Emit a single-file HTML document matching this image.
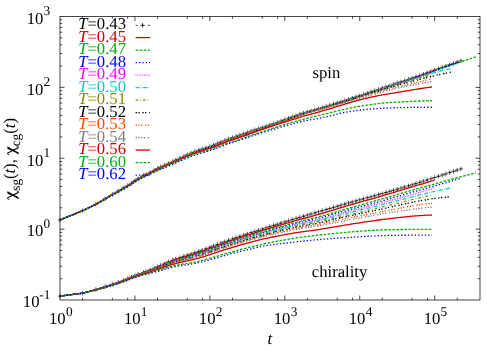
<!DOCTYPE html>
<html><head><meta charset="utf-8"><title>chi(t)</title>
<style>html,body{margin:0;padding:0;background:#fff;}body{width:500px;height:350px;overflow:hidden;font-family:"Liberation Serif",serif;}svg{display:block;will-change:transform;}text{text-rendering:geometricPrecision;}</style></head>
<body>
<svg width="500" height="350" viewBox="0 0 500 350">
<g fill="none" stroke-linecap="butt" stroke-linejoin="round">
<path d="M60.00,220.00L82.56,210.72L95.76,204.22L105.12,198.73L112.38,194.40L118.31,191.08L123.33,188.11L127.68,185.56L131.51,183.19L134.94,180.64L138.04,178.65L143.48,175.64L145.89,174.44L150.24,172.28L154.07,170.29L157.50,168.52L160.60,167.02L164.76,165.19L168.45,163.60L172.80,161.58L175.71,160.15L180.06,158.07L183.89,156.30L187.32,154.73L191.01,153.11L194.84,151.56L198.73,150.18L202.21,149.07L206.09,147.85L209.88,146.54L213.57,145.10L217.40,143.46L221.06,141.89L224.77,140.39L228.65,138.95L232.44,137.61L236.13,136.34L239.83,135.08L243.62,133.78L247.33,132.48L251.11,131.14L254.84,129.86L258.61,128.62L262.33,127.46L266.07,126.28L269.83,125.06L273.58,123.76L277.31,122.42L281.06,121.04L284.82,119.63L288.57,118.24L292.32,116.86L296.07,115.53L299.81,114.26L303.55,113.06L307.30,111.91L311.05,110.79L314.80,109.69L318.54,108.61L322.29,107.51L326.04,106.41L329.78,105.27L333.53,104.10L337.28,102.92L341.02,101.74L344.77,100.54L348.52,99.34L352.26,98.13L356.01,96.90L359.76,95.68L363.51,94.44L367.25,93.19L371.00,91.93L374.75,90.67L378.50,89.40L382.24,88.12L385.99,86.85L389.74,85.59L393.48,84.33L397.23,83.09L400.98,81.84L404.72,80.60L408.47,79.35L412.22,78.09L415.96,76.81L419.71,75.50L423.46,74.16L427.21,72.78L430.95,71.39L434.70,70.00L438.45,68.64L442.19,67.31L445.94,66.00L449.69,64.70L453.44,63.40L457.18,62.10L460.93,60.80" stroke="#000000" stroke-width="0.70" stroke-dasharray="2.20,3.90"/>
<path d="M57.80,220.00h4.4M60.00,217.80v4.4M80.36,210.72h4.4M82.56,208.52v4.4M93.56,204.22h4.4M95.76,202.02v4.4M102.92,198.73h4.4M105.12,196.53v4.4M110.18,194.40h4.4M112.38,192.20v4.4M116.11,191.08h4.4M118.31,188.88v4.4M121.13,188.11h4.4M123.33,185.91v4.4M125.48,185.56h4.4M127.68,183.36v4.4M129.31,183.19h4.4M131.51,180.99v4.4M132.74,180.64h4.4M134.94,178.44v4.4M135.84,178.65h4.4M138.04,176.45v4.4M141.28,175.64h4.4M143.48,173.44v4.4M143.69,174.44h4.4M145.89,172.24v4.4M148.04,172.28h4.4M150.24,170.08v4.4M151.87,170.29h4.4M154.07,168.09v4.4M155.30,168.52h4.4M157.50,166.32v4.4M158.40,167.02h4.4M160.60,164.82v4.4M162.56,165.19h4.4M164.76,162.99v4.4M166.25,163.60h4.4M168.45,161.40v4.4M170.60,161.58h4.4M172.80,159.38v4.4M173.51,160.15h4.4M175.71,157.95v4.4M177.86,158.07h4.4M180.06,155.87v4.4M181.69,156.30h4.4M183.89,154.10v4.4M185.12,154.73h4.4M187.32,152.53v4.4M188.81,153.11h4.4M191.01,150.91v4.4M192.64,151.56h4.4M194.84,149.36v4.4M196.53,150.18h4.4M198.73,147.98v4.4M200.01,149.07h4.4M202.21,146.87v4.4M203.89,147.85h4.4M206.09,145.65v4.4M207.68,146.54h4.4M209.88,144.34v4.4M211.37,145.10h4.4M213.57,142.90v4.4M215.20,143.46h4.4M217.40,141.26v4.4M218.86,141.89h4.4M221.06,139.69v4.4M222.57,140.39h4.4M224.77,138.19v4.4M226.45,138.95h4.4M228.65,136.75v4.4M230.24,137.61h4.4M232.44,135.41v4.4M233.93,136.34h4.4M236.13,134.14v4.4M237.63,135.08h4.4M239.83,132.88v4.4M241.42,133.78h4.4M243.62,131.58v4.4M245.13,132.48h4.4M247.33,130.28v4.4M248.91,131.14h4.4M251.11,128.94v4.4M252.64,129.86h4.4M254.84,127.66v4.4M256.41,128.62h4.4M258.61,126.42v4.4M260.13,127.46h4.4M262.33,125.26v4.4M263.87,126.28h4.4M266.07,124.08v4.4M267.63,125.06h4.4M269.83,122.86v4.4M271.38,123.76h4.4M273.58,121.56v4.4M275.11,122.42h4.4M277.31,120.22v4.4M278.86,121.04h4.4M281.06,118.84v4.4M282.62,119.63h4.4M284.82,117.43v4.4M286.37,118.24h4.4M288.57,116.04v4.4M290.12,116.86h4.4M292.32,114.66v4.4M293.87,115.53h4.4M296.07,113.33v4.4M297.61,114.26h4.4M299.81,112.06v4.4M301.35,113.06h4.4M303.55,110.86v4.4M305.10,111.91h4.4M307.30,109.71v4.4M308.85,110.79h4.4M311.05,108.59v4.4M312.60,109.69h4.4M314.80,107.49v4.4M316.34,108.61h4.4M318.54,106.41v4.4M320.09,107.51h4.4M322.29,105.31v4.4M323.84,106.41h4.4M326.04,104.21v4.4M327.58,105.27h4.4M329.78,103.07v4.4M331.33,104.10h4.4M333.53,101.90v4.4M335.08,102.92h4.4M337.28,100.72v4.4M338.82,101.74h4.4M341.02,99.54v4.4M342.57,100.54h4.4M344.77,98.34v4.4M346.32,99.34h4.4M348.52,97.14v4.4M350.06,98.13h4.4M352.26,95.93v4.4M353.81,96.90h4.4M356.01,94.70v4.4M357.56,95.68h4.4M359.76,93.48v4.4M361.31,94.44h4.4M363.51,92.24v4.4M365.05,93.19h4.4M367.25,90.99v4.4M368.80,91.93h4.4M371.00,89.73v4.4M372.55,90.67h4.4M374.75,88.47v4.4M376.30,89.40h4.4M378.50,87.20v4.4M380.04,88.12h4.4M382.24,85.92v4.4M383.79,86.85h4.4M385.99,84.65v4.4M387.54,85.59h4.4M389.74,83.39v4.4M391.28,84.33h4.4M393.48,82.13v4.4M395.03,83.09h4.4M397.23,80.89v4.4M398.78,81.84h4.4M400.98,79.64v4.4M402.52,80.60h4.4M404.72,78.40v4.4M406.27,79.35h4.4M408.47,77.15v4.4M410.02,78.09h4.4M412.22,75.89v4.4M413.76,76.81h4.4M415.96,74.61v4.4M417.51,75.50h4.4M419.71,73.30v4.4M421.26,74.16h4.4M423.46,71.96v4.4M425.01,72.78h4.4M427.21,70.58v4.4M428.75,71.39h4.4M430.95,69.19v4.4M432.50,70.00h4.4M434.70,67.80v4.4M436.25,68.64h4.4M438.45,66.44v4.4M439.99,67.31h4.4M442.19,65.11v4.4M443.74,66.00h4.4M445.94,63.80v4.4M447.49,64.70h4.4M449.69,62.50v4.4M451.24,63.40h4.4M453.44,61.20v4.4M454.98,62.10h4.4M457.18,59.90v4.4M458.73,60.80h4.4M460.93,58.60v4.4" stroke="#000" stroke-width="0.65"/>
<path d="M60.00,296.10L82.56,293.21L95.76,289.61L105.12,286.66L112.38,284.32L118.31,282.29L123.33,280.36L127.68,278.58L131.51,277.00L134.94,275.62L138.04,274.42L143.48,272.38L145.89,271.47L150.24,269.81L154.07,268.28L157.50,266.82L160.60,265.40L164.76,263.46L168.45,261.83L172.80,260.13L175.71,259.08L180.06,257.58L183.89,256.32L187.32,255.22L191.01,254.03L194.84,252.77L198.73,251.45L202.21,250.21L206.09,248.77L209.88,247.34L213.57,245.93L217.40,244.47L221.06,243.08L224.77,241.69L228.65,240.28L232.44,238.95L236.13,237.68L239.83,236.42L243.62,235.15L247.33,233.93L251.11,232.69L254.84,231.48L258.61,230.25L262.33,229.05L266.07,227.84L269.83,226.63L273.58,225.43L277.31,224.25L281.06,223.07L284.82,221.90L288.57,220.74L292.32,219.59L296.07,218.46L299.81,217.34L303.55,216.24L307.30,215.13L311.05,214.03L314.80,212.93L318.54,211.83L322.29,210.72L326.04,209.62L329.78,208.51L333.53,207.40L337.28,206.30L341.02,205.20L344.77,204.11L348.52,203.03L352.26,201.95L356.01,200.90L359.76,199.85L363.51,198.81L367.25,197.78L371.00,196.74L374.75,195.69L378.50,194.63L382.24,193.56L385.99,192.48L389.74,191.40L393.48,190.32L397.23,189.22L400.98,188.12L404.72,187.00L408.47,185.87L412.22,184.72L415.96,183.55L419.71,182.37L423.46,181.17L427.21,179.97L430.95,178.75L434.70,177.53L438.45,176.30L442.19,175.07L445.94,173.84L449.69,172.60L453.44,171.37L457.18,170.14L460.93,168.92" stroke="#000000" stroke-width="0.70" stroke-dasharray="2.20,3.90"/>
<path d="M57.80,296.10h4.4M60.00,293.90v4.4M80.36,293.21h4.4M82.56,291.01v4.4M93.56,289.61h4.4M95.76,287.41v4.4M102.92,286.66h4.4M105.12,284.46v4.4M110.18,284.32h4.4M112.38,282.12v4.4M116.11,282.29h4.4M118.31,280.09v4.4M121.13,280.36h4.4M123.33,278.16v4.4M125.48,278.58h4.4M127.68,276.38v4.4M129.31,277.00h4.4M131.51,274.80v4.4M132.74,275.62h4.4M134.94,273.42v4.4M135.84,274.42h4.4M138.04,272.22v4.4M141.28,272.38h4.4M143.48,270.18v4.4M143.69,271.47h4.4M145.89,269.27v4.4M148.04,269.81h4.4M150.24,267.61v4.4M151.87,268.28h4.4M154.07,266.08v4.4M155.30,266.82h4.4M157.50,264.62v4.4M158.40,265.40h4.4M160.60,263.20v4.4M162.56,263.46h4.4M164.76,261.26v4.4M166.25,261.83h4.4M168.45,259.63v4.4M170.60,260.13h4.4M172.80,257.93v4.4M173.51,259.08h4.4M175.71,256.88v4.4M177.86,257.58h4.4M180.06,255.38v4.4M181.69,256.32h4.4M183.89,254.12v4.4M185.12,255.22h4.4M187.32,253.02v4.4M188.81,254.03h4.4M191.01,251.83v4.4M192.64,252.77h4.4M194.84,250.57v4.4M196.53,251.45h4.4M198.73,249.25v4.4M200.01,250.21h4.4M202.21,248.01v4.4M203.89,248.77h4.4M206.09,246.57v4.4M207.68,247.34h4.4M209.88,245.14v4.4M211.37,245.93h4.4M213.57,243.73v4.4M215.20,244.47h4.4M217.40,242.27v4.4M218.86,243.08h4.4M221.06,240.88v4.4M222.57,241.69h4.4M224.77,239.49v4.4M226.45,240.28h4.4M228.65,238.08v4.4M230.24,238.95h4.4M232.44,236.75v4.4M233.93,237.68h4.4M236.13,235.48v4.4M237.63,236.42h4.4M239.83,234.22v4.4M241.42,235.15h4.4M243.62,232.95v4.4M245.13,233.93h4.4M247.33,231.73v4.4M248.91,232.69h4.4M251.11,230.49v4.4M252.64,231.48h4.4M254.84,229.28v4.4M256.41,230.25h4.4M258.61,228.05v4.4M260.13,229.05h4.4M262.33,226.85v4.4M263.87,227.84h4.4M266.07,225.64v4.4M267.63,226.63h4.4M269.83,224.43v4.4M271.38,225.43h4.4M273.58,223.23v4.4M275.11,224.25h4.4M277.31,222.05v4.4M278.86,223.07h4.4M281.06,220.87v4.4M282.62,221.90h4.4M284.82,219.70v4.4M286.37,220.74h4.4M288.57,218.54v4.4M290.12,219.59h4.4M292.32,217.39v4.4M293.87,218.46h4.4M296.07,216.26v4.4M297.61,217.34h4.4M299.81,215.14v4.4M301.35,216.24h4.4M303.55,214.04v4.4M305.10,215.13h4.4M307.30,212.93v4.4M308.85,214.03h4.4M311.05,211.83v4.4M312.60,212.93h4.4M314.80,210.73v4.4M316.34,211.83h4.4M318.54,209.63v4.4M320.09,210.72h4.4M322.29,208.52v4.4M323.84,209.62h4.4M326.04,207.42v4.4M327.58,208.51h4.4M329.78,206.31v4.4M331.33,207.40h4.4M333.53,205.20v4.4M335.08,206.30h4.4M337.28,204.10v4.4M338.82,205.20h4.4M341.02,203.00v4.4M342.57,204.11h4.4M344.77,201.91v4.4M346.32,203.03h4.4M348.52,200.83v4.4M350.06,201.95h4.4M352.26,199.75v4.4M353.81,200.90h4.4M356.01,198.70v4.4M357.56,199.85h4.4M359.76,197.65v4.4M361.31,198.81h4.4M363.51,196.61v4.4M365.05,197.78h4.4M367.25,195.58v4.4M368.80,196.74h4.4M371.00,194.54v4.4M372.55,195.69h4.4M374.75,193.49v4.4M376.30,194.63h4.4M378.50,192.43v4.4M380.04,193.56h4.4M382.24,191.36v4.4M383.79,192.48h4.4M385.99,190.28v4.4M387.54,191.40h4.4M389.74,189.20v4.4M391.28,190.32h4.4M393.48,188.12v4.4M395.03,189.22h4.4M397.23,187.02v4.4M398.78,188.12h4.4M400.98,185.92v4.4M402.52,187.00h4.4M404.72,184.80v4.4M406.27,185.87h4.4M408.47,183.67v4.4M410.02,184.72h4.4M412.22,182.52v4.4M413.76,183.55h4.4M415.96,181.35v4.4M417.51,182.37h4.4M419.71,180.17v4.4M421.26,181.17h4.4M423.46,178.97v4.4M425.01,179.97h4.4M427.21,177.77v4.4M428.75,178.75h4.4M430.95,176.55v4.4M432.50,177.53h4.4M434.70,175.33v4.4M436.25,176.30h4.4M438.45,174.10v4.4M439.99,175.07h4.4M442.19,172.87v4.4M443.74,173.84h4.4M445.94,171.64v4.4M447.49,172.60h4.4M449.69,170.40v4.4M451.24,171.37h4.4M453.44,169.17v4.4M454.98,170.14h4.4M457.18,167.94v4.4M458.73,168.92h4.4M460.93,166.72v4.4" stroke="#000" stroke-width="0.65"/>
<path d="M60.00,220.00L82.56,210.72L95.76,204.22L105.12,198.73L112.38,194.42L118.31,191.13L123.33,188.20L127.68,185.69L131.51,183.36L134.94,180.84L138.04,178.87L143.48,175.92L145.89,174.74L150.24,172.63L154.07,170.68L157.50,168.95L160.60,167.49L164.76,165.70L168.45,164.16L172.80,162.19L175.71,160.80L180.06,158.77L183.89,157.05L187.32,155.52L191.01,153.96L194.84,152.47L198.73,151.16L202.21,150.10L206.09,148.94L209.88,147.70L213.57,146.31L217.40,144.73L221.06,143.21L224.77,141.76L228.65,140.36L232.44,139.05L236.13,137.81L239.83,136.57L243.62,135.28L247.33,133.98L251.11,132.63L254.84,131.32L258.61,130.06L262.33,128.86L266.07,127.65L269.83,126.37L273.58,125.03L277.31,123.64L281.06,122.20L284.82,120.74L288.57,119.29L292.32,117.86L296.07,116.48L299.81,115.16L303.55,113.92L307.30,112.71L311.05,111.53L314.80,110.37L318.54,109.23L322.29,108.09L326.04,106.94L329.78,105.77L333.53,104.58L337.28,103.39L341.02,102.19L344.77,100.97L348.52,99.76L352.26,98.53L356.01,97.31L359.76,96.08L363.51,94.84L367.25,93.59L371.00,92.33L374.75,91.07L378.50,89.80L382.24,88.52L385.99,87.25L389.74,85.99L393.48,84.74L397.23,83.50L400.98,82.27L404.72,81.05L408.47,79.82L412.22,78.57L415.96,77.30L419.71,76.00L423.46,74.66L427.21,73.28L430.95,71.89L434.70,70.50" stroke="#cd0000" stroke-width="1.30"/>
<path d="M60.00,296.10L82.56,293.21L95.76,289.65L105.12,286.73L112.38,284.41L118.31,282.38L123.33,280.47L127.68,278.70L131.51,277.13L134.94,275.76L138.04,274.58L143.48,272.58L145.89,271.70L150.24,270.09L154.07,268.61L157.50,267.20L160.60,265.82L164.76,263.94L168.45,262.36L172.80,260.72L175.71,259.70L180.06,258.27L183.89,257.07L187.32,256.01L191.01,254.88L194.84,253.67L198.73,252.38L202.21,251.18L206.09,249.77L209.88,248.37L213.57,246.99L217.40,245.54L221.06,244.18L224.77,242.81L228.65,241.43L232.44,240.12L236.13,238.88L239.83,237.65L243.62,236.41L247.33,235.22L251.11,234.01L254.84,232.83L258.61,231.64L262.33,230.47L266.07,229.31L269.83,228.15L273.58,227.02L277.31,225.90L281.06,224.78L284.82,223.68L288.57,222.59L292.32,221.52L296.07,220.49L299.81,219.49L303.55,218.50L307.30,217.51L311.05,216.51L314.80,215.49L318.54,214.43L322.29,213.32L326.04,212.20L329.78,211.07L333.53,209.93L337.28,208.79L341.02,207.66L344.77,206.54L348.52,205.43L352.26,204.34L356.01,203.27L359.76,202.22L363.51,201.17L367.25,200.12L371.00,199.07L374.75,198.01L378.50,196.94L382.24,195.85L385.99,194.74L389.74,193.63L393.48,192.51L397.23,191.39L400.98,190.25L404.72,189.11L408.47,187.97L412.22,186.83L415.96,185.72L419.71,184.63L423.46,183.54L427.21,182.42L430.95,181.25L434.70,180.03" stroke="#cd0000" stroke-width="1.30"/>
<path d="M60.00,220.00L82.56,210.72L95.76,204.22L105.12,198.73L112.38,194.40L118.31,191.08L123.33,188.11L127.68,185.56L131.51,183.19L134.94,180.64L138.04,178.65L143.48,175.66L145.89,174.46L150.24,172.32L154.07,170.35L157.50,168.61L160.60,167.12L164.76,165.32L168.45,163.75L172.80,161.75L175.71,160.34L180.06,158.27L183.89,156.51L187.32,154.95L191.01,153.34L194.84,151.79L198.73,150.43L202.21,149.32L206.09,148.10L209.88,146.81L213.57,145.37L217.40,143.74L221.06,142.17L224.77,140.68L228.65,139.24L232.44,137.90L236.13,136.64L239.83,135.38L243.62,134.08L247.33,132.78L251.11,131.44L254.84,130.16L258.61,128.92L262.33,127.76L266.07,126.58L269.83,125.36L273.58,124.06L277.31,122.72L281.06,121.34L284.82,119.93L288.57,118.54L292.32,117.16L296.07,115.83L299.81,114.56L303.55,113.36L307.30,112.21L311.05,111.09L314.80,109.99L318.54,108.91L322.29,107.81L326.04,106.71L329.78,105.57L333.53,104.40L337.28,103.24L341.02,102.07L344.77,100.89L348.52,99.71L352.26,98.51L356.01,97.30L359.76,96.08L363.51,94.84L367.25,93.59L371.00,92.33L374.75,91.07L378.50,89.80L382.24,88.52L385.99,87.25L389.74,85.99L393.48,84.74L397.23,83.51L400.98,82.29L404.72,81.07L408.47,79.85L412.22,78.62L415.96,77.37L419.71,76.10L423.46,74.79L427.21,73.44L430.95,72.07L434.70,70.73L438.45,69.43L442.19,68.16L445.94,66.91L449.69,65.67L453.44,64.42L457.18,63.17L460.93,61.92L464.68,60.65L468.42,59.38L472.17,58.11L475.92,56.84" stroke="#00b400" stroke-width="1.30" stroke-dasharray="2.70,1.35"/>
<path d="M60.00,296.10L82.56,293.21L95.76,289.68L105.12,286.80L112.38,284.50L118.31,282.48L123.33,280.57L127.68,278.81L131.51,277.25L134.94,275.89L138.04,274.72L143.48,272.76L145.89,271.90L150.24,270.34L154.07,268.91L157.50,267.54L160.60,266.20L164.76,264.37L168.45,262.84L172.80,261.25L175.71,260.28L180.06,258.91L183.89,257.76L187.32,256.75L191.01,255.67L194.84,254.50L198.73,253.26L202.21,252.08L206.09,250.71L209.88,249.33L213.57,247.97L217.40,246.55L221.06,245.20L224.77,243.86L228.65,242.50L232.44,241.22L236.13,240.00L239.83,238.80L243.62,237.58L247.33,236.41L251.11,235.23L254.84,234.08L258.61,232.92L262.33,231.80L266.07,230.68L269.83,229.57L273.58,228.49L277.31,227.42L281.06,226.37L284.82,225.33L288.57,224.31L292.32,223.31L296.07,222.35L299.81,221.43L303.55,220.53L307.30,219.63L311.05,218.71L314.80,217.77L318.54,216.80L322.29,215.77L326.04,214.74L329.78,213.70L333.53,212.66L337.28,211.61L341.02,210.55L344.77,209.49L348.52,208.42L352.26,207.35L356.01,206.29L359.76,205.23L363.51,204.17L367.25,203.12L371.00,202.06L374.75,201.00L378.50,199.93L382.24,198.86L385.99,197.79L389.74,196.71L393.48,195.64L397.23,194.56L400.98,193.47L404.72,192.37L408.47,191.26L412.22,190.15L415.96,189.08L419.71,188.05L423.46,187.04L427.21,186.03L430.95,185.00L434.70,183.95L438.45,182.90L442.19,181.85L445.94,180.81L449.69,179.78L453.44,178.75L457.18,177.74L460.93,176.74L464.68,175.75L468.42,174.77L472.17,173.80L475.92,172.83" stroke="#00b400" stroke-width="1.30" stroke-dasharray="2.70,1.35"/>
<path d="M60.00,220.00L82.56,210.72L95.76,204.22L105.12,198.73L112.38,194.40L118.31,191.08L123.33,188.11L127.68,185.56L131.51,183.19L134.94,180.64L138.04,178.65L143.48,175.66L145.89,174.46L150.24,172.32L154.07,170.35L157.50,168.60L160.60,167.12L164.76,165.31L168.45,163.74L172.80,161.74L175.71,160.33L180.06,158.27L183.89,156.51L187.32,154.96L191.01,153.35L194.84,151.82L198.73,150.46L202.21,149.36L206.09,148.15L209.88,146.86L213.57,145.43L217.40,143.81L221.06,142.25L224.77,140.76L228.65,139.33L232.44,137.99L236.13,136.73L239.83,135.48L243.62,134.18L247.33,132.88L251.11,131.54L254.84,130.26L258.61,129.02L262.33,127.86L266.07,126.68L269.83,125.46L273.58,124.16L277.31,122.82L281.06,121.44L284.82,120.03L288.57,118.64L292.32,117.26L296.07,115.93L299.81,114.66L303.55,113.46L307.30,112.31L311.05,111.19L314.80,110.09L318.54,109.01L322.29,107.91L326.04,106.81L329.78,105.67L333.53,104.50L337.28,103.32L341.02,102.14L344.77,100.94L348.52,99.74L352.26,98.53L356.01,97.30L359.76,96.08L363.51,94.85L367.25,93.60L371.00,92.36L374.75,91.10L378.50,89.85L382.24,88.59L385.99,87.34L389.74,86.09L393.48,84.85L397.23,83.61L400.98,82.39L404.72,81.16L408.47,79.93L412.22,78.67L415.96,77.40L419.71,76.10L423.46,74.76L427.21,73.38L430.95,71.99L434.70,70.60L438.45,69.24L442.19,67.91L445.94,66.60L449.69,65.30L453.44,64.00L457.18,62.70L460.93,61.40" stroke="#0000ff" stroke-width="1.30" stroke-dasharray="1.35,2.03"/>
<path d="M60.00,296.10L82.56,293.21L95.76,289.70L105.12,286.83L112.38,284.54L118.31,282.53L123.33,280.62L127.68,278.87L131.51,277.32L134.94,275.97L138.04,274.81L143.48,272.87L145.89,272.03L150.24,270.50L154.07,269.10L157.50,267.75L160.60,266.44L164.76,264.64L168.45,263.14L172.80,261.58L175.71,260.63L180.06,259.30L183.89,258.18L187.32,257.20L191.01,256.15L194.84,255.01L198.73,253.80L202.21,252.63L206.09,251.28L209.88,249.92L213.57,248.57L217.40,247.17L221.06,245.83L224.77,244.51L228.65,243.17L232.44,241.90L236.13,240.70L239.83,239.50L243.62,238.31L247.33,237.15L251.11,235.98L254.84,234.85L258.61,233.71L262.33,232.61L266.07,231.52L269.83,230.44L273.58,229.39L277.31,228.36L281.06,227.35L284.82,226.35L288.57,225.36L292.32,224.40L296.07,223.48L299.81,222.61L303.55,221.75L307.30,220.89L311.05,220.02L314.80,219.12L318.54,218.18L322.29,217.19L326.04,216.18L329.78,215.16L333.53,214.13L337.28,213.10L341.02,212.07L344.77,211.03L348.52,210.01L352.26,208.98L356.01,207.97L359.76,206.97L363.51,205.97L367.25,204.97L371.00,203.96L374.75,202.95L378.50,201.92L382.24,200.87L385.99,199.82L389.74,198.76L393.48,197.70L397.23,196.62L400.98,195.54L404.72,194.45L408.47,193.35L412.22,192.25L415.96,191.17L419.71,190.10L423.46,189.04L427.21,187.98L430.95,186.91L434.70,185.85L438.45,184.83L442.19,183.82L445.94,182.79L449.69,181.73L453.44,180.61L457.18,179.47L460.93,178.33" stroke="#0000ff" stroke-width="1.30" stroke-dasharray="1.35,2.03"/>
<path d="M60.00,220.00L82.56,210.72L95.76,204.22L105.12,198.73L112.38,194.41L118.31,191.11L123.33,188.16L127.68,185.63L131.51,183.28L134.94,180.74L138.04,178.76L143.48,175.78L145.89,174.59L150.24,172.44L154.07,170.47L157.50,168.72L160.60,167.23L164.76,165.42L168.45,163.85L172.80,161.85L175.71,160.44L180.06,158.37L183.89,156.61L187.32,155.06L191.01,153.45L194.84,151.92L198.73,150.56L202.21,149.46L206.09,148.25L209.88,146.96L213.57,145.53L217.40,143.91L221.06,142.35L224.77,140.86L228.65,139.43L232.44,138.09L236.13,136.83L239.83,135.58L243.62,134.28L247.33,132.98L251.11,131.64L254.84,130.36L258.61,129.12L262.33,127.96L266.07,126.78L269.83,125.56L273.58,124.26L277.31,122.92L281.06,121.54L284.82,120.13L288.57,118.74L292.32,117.36L296.07,116.03L299.81,114.76L303.55,113.56L307.30,112.41L311.05,111.29L314.80,110.19L318.54,109.11L322.29,108.01L326.04,106.91L329.78,105.77L333.53,104.60L337.28,103.42L341.02,102.24L344.77,101.04L348.52,99.84L352.26,98.63L356.01,97.40L359.76,96.18L363.51,94.95L367.25,93.71L371.00,92.47L374.75,91.23L378.50,89.99L382.24,88.75L385.99,87.52L389.74,86.29L393.48,85.07L397.23,83.87L400.98,82.69L404.72,81.50L408.47,80.32L412.22,79.13L415.96,77.92L419.71,76.70L423.46,75.46L427.21,74.20L430.95,72.88L434.70,71.50" stroke="#ff00ff" stroke-width="1.30" stroke-dasharray="0.68,1.01"/>
<path d="M60.00,296.10L82.56,293.21L95.76,289.72L105.12,286.87L112.38,284.59L118.31,282.58L123.33,280.68L127.68,278.94L131.51,277.39L134.94,276.05L138.04,274.90L143.48,272.99L145.89,272.16L150.24,270.66L154.07,269.29L157.50,267.97L160.60,266.68L164.76,264.92L168.45,263.45L172.80,261.93L175.71,260.99L180.06,259.70L183.89,258.61L187.32,257.66L191.01,256.63L194.84,255.52L198.73,254.33L202.21,253.19L206.09,251.85L209.88,250.50L213.57,249.17L217.40,247.78L221.06,246.46L224.77,245.15L228.65,243.82L232.44,242.57L236.13,241.38L239.83,240.21L243.62,239.02L247.33,237.88L251.11,236.73L254.84,235.62L258.61,234.51L262.33,233.43L266.07,232.36L269.83,231.32L273.58,230.30L277.31,229.31L281.06,228.33L284.82,227.37L288.57,226.42L292.32,225.49L296.07,224.62L299.81,223.78L303.55,222.97L307.30,222.16L311.05,221.33L314.80,220.47L318.54,219.57L322.29,218.61L326.04,217.63L329.78,216.63L333.53,215.63L337.28,214.62L341.02,213.61L344.77,212.60L348.52,211.60L352.26,210.60L356.01,209.61L359.76,208.63L363.51,207.64L367.25,206.66L371.00,205.68L374.75,204.69L378.50,203.70L382.24,202.70L385.99,201.71L389.74,200.71L393.48,199.72L397.23,198.71L400.98,197.70L404.72,196.67L408.47,195.63L412.22,194.57L415.96,193.51L419.71,192.45L423.46,191.35L427.21,190.23L430.95,189.05L434.70,187.83" stroke="#ff00ff" stroke-width="1.30" stroke-dasharray="0.68,1.01"/>
<path d="M60.00,220.00L82.56,210.72L95.76,204.22L105.12,198.73L112.38,194.41L118.31,191.11L123.33,188.16L127.68,185.63L131.51,183.28L134.94,180.74L138.04,178.76L143.48,175.78L145.89,174.59L150.24,172.44L154.07,170.47L157.50,168.72L160.60,167.23L164.76,165.42L168.45,163.85L172.80,161.85L175.71,160.44L180.06,158.37L183.89,156.61L187.32,155.06L191.01,153.45L194.84,151.92L198.73,150.56L202.21,149.46L206.09,148.25L209.88,146.96L213.57,145.53L217.40,143.91L221.06,142.35L224.77,140.86L228.65,139.43L232.44,138.09L236.13,136.83L239.83,135.58L243.62,134.28L247.33,132.98L251.11,131.64L254.84,130.36L258.61,129.12L262.33,127.96L266.07,126.78L269.83,125.56L273.58,124.26L277.31,122.92L281.06,121.54L284.82,120.13L288.57,118.74L292.32,117.36L296.07,116.03L299.81,114.76L303.55,113.56L307.30,112.41L311.05,111.29L314.80,110.19L318.54,109.11L322.29,108.01L326.04,106.91L329.78,105.77L333.53,104.60L337.28,103.43L341.02,102.26L344.77,101.07L348.52,99.88L352.26,98.69L356.01,97.48L359.76,96.28L363.51,95.06L367.25,93.84L371.00,92.61L374.75,91.38L378.50,90.15L382.24,88.92L385.99,87.70L389.74,86.48L393.48,85.29L397.23,84.13L400.98,82.98L404.72,81.84L408.47,80.71L412.22,79.58L415.96,78.44L419.71,77.29L423.46,76.12L427.21,74.96L430.95,73.81L434.70,72.70L438.45,71.67L442.19,70.70L445.94,69.78L449.69,68.91L451.40,68.53" stroke="#00cdcd" stroke-width="1.30" stroke-dasharray="4.05,1.35,0.68,1.35"/>
<path d="M60.00,296.10L82.56,293.21L95.76,289.73L105.12,286.90L112.38,284.62L118.31,282.62L123.33,280.73L127.68,278.98L131.51,277.44L134.94,276.10L138.04,274.96L143.48,273.06L145.89,272.24L150.24,270.75L154.07,269.40L157.50,268.10L160.60,266.83L164.76,265.09L168.45,263.63L172.80,262.13L175.71,261.21L180.06,259.94L183.89,258.87L187.32,257.94L191.01,256.93L194.84,255.84L198.73,254.66L202.21,253.53L206.09,252.21L209.88,250.87L213.57,249.55L217.40,248.16L221.06,246.85L224.77,245.55L228.65,244.23L232.44,242.99L236.13,241.81L239.83,240.64L243.62,239.47L247.33,238.34L251.11,237.20L254.84,236.10L258.61,235.00L262.33,233.93L266.07,232.89L269.83,231.86L273.58,230.86L277.31,229.89L281.06,228.94L284.82,228.00L288.57,227.08L292.32,226.18L296.07,225.34L299.81,224.54L303.55,223.76L307.30,222.99L311.05,222.21L314.80,221.40L318.54,220.55L322.29,219.64L326.04,218.71L329.78,217.77L333.53,216.81L337.28,215.84L341.02,214.88L344.77,213.92L348.52,212.97L352.26,212.04L356.01,211.11L359.76,210.19L363.51,209.28L367.25,208.36L371.00,207.44L374.75,206.52L378.50,205.58L382.24,204.63L385.99,203.67L389.74,202.70L393.48,201.72L397.23,200.74L400.98,199.76L404.72,198.78L408.47,197.80L412.22,196.83L415.96,195.88L419.71,194.96L423.46,194.05L427.21,193.15L430.95,192.26L434.70,191.38L438.45,190.52L442.19,189.69L445.94,188.89L449.69,188.11L450.80,187.88" stroke="#00cdcd" stroke-width="1.30" stroke-dasharray="4.05,1.35,0.68,1.35"/>
<path d="M60.00,220.00L82.56,210.72L95.76,204.22L105.12,198.73L112.38,194.41L118.31,191.10L123.33,188.15L127.68,185.62L131.51,183.28L134.94,180.74L138.04,178.76L143.48,175.79L145.89,174.60L150.24,172.47L154.07,170.51L157.50,168.77L160.60,167.29L164.76,165.49L168.45,163.93L172.80,161.94L175.71,160.53L180.06,158.47L183.89,156.72L187.32,155.16L191.01,153.56L194.84,152.02L198.73,150.66L202.21,149.57L206.09,148.36L209.88,147.07L213.57,145.63L217.40,144.02L221.06,142.45L224.77,140.96L228.65,139.53L232.44,138.20L236.13,136.93L239.83,135.68L243.62,134.38L247.33,133.08L251.11,131.74L254.84,130.46L258.61,129.22L262.33,128.06L266.07,126.88L269.83,125.66L273.58,124.36L277.31,123.02L281.06,121.64L284.82,120.23L288.57,118.84L292.32,117.46L296.07,116.13L299.81,114.86L303.55,113.66L307.30,112.51L311.05,111.39L314.80,110.29L318.54,109.21L322.29,108.11L326.04,107.01L329.78,105.87L333.53,104.71L337.28,103.54L341.02,102.38L344.77,101.20L348.52,100.03L352.26,98.85L356.01,97.67L359.76,96.48L363.51,95.28L367.25,94.07L371.00,92.87L374.75,91.66L378.50,90.45L382.24,89.25L385.99,88.06L389.74,86.88L393.48,85.72L397.23,84.59L400.98,83.47L404.72,82.38L408.47,81.29L412.22,80.22L415.96,79.15L419.71,78.08L423.46,77.06L427.21,76.13L430.95,75.24L432.00,75.00" stroke="#8b8b00" stroke-width="1.30" stroke-dasharray="2.70,2.03,0.68,2.03"/>
<path d="M60.00,296.10L82.56,293.21L95.76,289.76L105.12,286.94L112.38,284.67L118.31,282.67L123.33,280.78L127.68,279.04L131.51,277.51L134.94,276.17L138.04,275.03L143.48,273.16L145.89,272.35L150.24,270.89L154.07,269.57L157.50,268.29L160.60,267.04L164.76,265.33L168.45,263.90L172.80,262.43L175.71,261.53L180.06,260.29L183.89,259.25L187.32,258.34L191.01,257.36L194.84,256.29L198.73,255.14L202.21,254.02L206.09,252.71L209.88,251.39L213.57,250.08L217.40,248.71L221.06,247.41L224.77,246.12L228.65,244.81L232.44,243.59L236.13,242.42L239.83,241.26L243.62,240.10L247.33,238.99L251.11,237.86L254.84,236.78L258.61,235.69L262.33,234.65L266.07,233.62L269.83,232.62L273.58,231.66L277.31,230.72L281.06,229.80L284.82,228.89L288.57,228.01L292.32,227.14L296.07,226.32L299.81,225.53L303.55,224.77L307.30,224.02L311.05,223.27L314.80,222.51L318.54,221.72L322.29,220.90L326.04,220.07L329.78,219.23L333.53,218.39L337.28,217.54L341.02,216.68L344.77,215.82L348.52,214.95L352.26,214.07L356.01,213.19L359.76,212.31L363.51,211.43L367.25,210.54L371.00,209.65L374.75,208.76L378.50,207.86L382.24,206.96L385.99,206.06L389.74,205.15L393.48,204.23L397.23,203.32L400.98,202.40L404.72,201.49L408.47,200.57L412.22,199.66L415.96,198.76L419.71,197.87L423.46,196.99L427.21,196.12L430.95,195.25L432.00,195.01" stroke="#8b8b00" stroke-width="1.30" stroke-dasharray="2.70,2.03,0.68,2.03"/>
<path d="M60.00,220.00L82.56,210.72L95.76,204.22L105.12,198.73L112.38,194.42L118.31,191.14L123.33,188.21L127.68,185.70L131.51,183.37L134.94,180.84L138.04,178.86L143.48,175.89L145.89,174.69L150.24,172.55L154.07,170.58L157.50,168.83L160.60,167.34L164.76,165.52L168.45,163.95L172.80,161.95L175.71,160.53L180.06,158.47L183.89,156.72L187.32,155.17L191.01,153.57L194.84,152.04L198.73,150.69L202.21,149.60L206.09,148.39L209.88,147.12L213.57,145.69L217.40,144.08L221.06,142.52L224.77,141.04L228.65,139.62L232.44,138.29L236.13,137.03L239.83,135.78L243.62,134.48L247.33,133.18L251.11,131.84L254.84,130.56L258.61,129.32L262.33,128.16L266.07,126.98L269.83,125.76L273.58,124.46L277.31,123.12L281.06,121.74L284.82,120.33L288.57,118.94L292.32,117.56L296.07,116.23L299.81,114.96L303.55,113.77L307.30,112.62L311.05,111.51L314.80,110.42L318.54,109.35L322.29,108.28L326.04,107.19L329.78,106.07L333.53,104.92L337.28,103.77L341.02,102.62L344.77,101.45L348.52,100.29L352.26,99.12L356.01,97.95L359.76,96.78L363.51,95.60L367.25,94.42L371.00,93.24L374.75,92.07L378.50,90.90L382.24,89.75L385.99,88.61L389.74,87.48L393.48,86.38L397.23,85.34L400.98,84.33L404.72,83.35L408.47,82.38L412.22,81.42L415.96,80.45L419.71,79.48L423.46,78.49L427.21,77.52L430.95,76.56L434.70,75.63L438.45,74.76L442.19,73.94L445.94,73.17L449.69,72.43L451.40,72.11" stroke="#000000" stroke-width="1.30" stroke-dasharray="1.35,1.35,1.35,2.70"/>
<path d="M60.00,296.10L82.56,293.21L95.76,289.77L105.12,286.97L112.38,284.71L118.31,282.72L123.33,280.83L127.68,279.10L131.51,277.57L134.94,276.24L138.04,275.11L143.48,273.26L145.89,272.46L150.24,271.03L154.07,269.73L157.50,268.48L160.60,267.25L164.76,265.57L168.45,264.16L172.80,262.72L175.71,261.84L180.06,260.63L183.89,259.62L187.32,258.74L191.01,257.79L194.84,256.75L198.73,255.61L202.21,254.51L206.09,253.22L209.88,251.91L213.57,250.61L217.40,249.25L221.06,247.96L224.77,246.68L228.65,245.39L232.44,244.18L236.13,243.02L239.83,241.88L243.62,240.73L247.33,239.63L251.11,238.52L254.84,237.45L258.61,236.39L262.33,235.36L266.07,234.36L269.83,233.39L273.58,232.45L277.31,231.55L281.06,230.66L284.82,229.79L288.57,228.93L292.32,228.10L296.07,227.31L299.81,226.57L303.55,225.85L307.30,225.14L311.05,224.42L314.80,223.68L318.54,222.91L322.29,222.10L326.04,221.27L329.78,220.41L333.53,219.55L337.28,218.69L341.02,217.82L344.77,216.97L348.52,216.13L352.26,215.30L356.01,214.50L359.76,213.70L363.51,212.90L367.25,212.11L371.00,211.32L374.75,210.53L378.50,209.73L382.24,208.91L385.99,208.09L389.74,207.25L393.48,206.41L397.23,205.58L400.98,204.75L404.72,203.93L408.47,203.12L412.22,202.34L415.96,201.60L419.71,200.90L423.46,200.23L427.21,199.59L430.95,198.98L434.70,198.41L438.45,197.91L442.19,197.49L445.94,197.12L449.69,196.81L451.00,196.71" stroke="#000000" stroke-width="1.30" stroke-dasharray="1.35,1.35,1.35,2.70"/>
<path d="M60.00,220.00L82.56,210.72L95.76,204.22L105.12,198.73L112.38,194.42L118.31,191.14L123.33,188.21L127.68,185.70L131.51,183.37L134.94,180.84L138.04,178.87L143.48,175.90L145.89,174.72L150.24,172.58L154.07,170.62L157.50,168.88L160.60,167.40L164.76,165.59L168.45,164.03L172.80,162.04L175.71,160.63L180.06,158.57L183.89,156.82L187.32,155.27L191.01,153.67L194.84,152.14L198.73,150.79L202.21,149.69L206.09,148.49L209.88,147.21L213.57,145.77L217.40,144.16L221.06,142.61L224.77,141.12L228.65,139.70L232.44,138.37L236.13,137.11L239.83,135.86L243.62,134.58L247.33,133.29L251.11,131.95L254.84,130.68L258.61,129.45L262.33,128.29L266.07,127.12L269.83,125.90L273.58,124.61L277.31,123.27L281.06,121.89L284.82,120.50L288.57,119.11L292.32,117.74L296.07,116.42L299.81,115.16L303.55,113.98L307.30,112.85L311.05,111.76L314.80,110.70L318.54,109.66L322.29,108.61L326.04,107.55L329.78,106.46L333.53,105.35L337.28,104.25L341.02,103.14L344.77,102.02L348.52,100.91L352.26,99.80L356.01,98.68L359.76,97.57L363.51,96.46L367.25,95.34L371.00,94.23L374.75,93.13L378.50,92.04L382.24,90.96L385.99,89.91L389.74,88.87L393.48,87.89L397.23,86.97L400.98,86.10L404.72,85.26L408.47,84.44L412.22,83.61L415.96,82.76L419.71,81.87L423.46,80.93L427.21,79.96L430.95,78.97L432.00,78.70" stroke="#ff4d00" stroke-width="1.30" stroke-dasharray="1.35,1.35,1.35,1.35,1.35,2.70"/>
<path d="M60.00,296.10L82.56,293.21L95.76,289.79L105.12,287.01L112.38,284.76L118.31,282.77L123.33,280.89L127.68,279.17L131.51,277.64L134.94,276.32L138.04,275.20L143.48,273.37L145.89,272.59L150.24,271.19L154.07,269.91L157.50,268.69L160.60,267.49L164.76,265.84L168.45,264.46L172.80,263.05L175.71,262.19L180.06,261.02L183.89,260.05L187.32,259.19L191.01,258.27L194.84,257.25L198.73,256.15L202.21,255.06L206.09,253.79L209.88,252.49L213.57,251.21L217.40,249.86L221.06,248.58L224.77,247.32L228.65,246.04L232.44,244.85L236.13,243.71L239.83,242.58L243.62,241.45L247.33,240.36L251.11,239.27L254.84,238.22L258.61,237.18L262.33,236.18L266.07,235.20L269.83,234.26L273.58,233.35L277.31,232.48L281.06,231.63L284.82,230.80L288.57,229.99L292.32,229.20L296.07,228.47L299.81,227.79L303.55,227.14L307.30,226.50L311.05,225.86L314.80,225.19L318.54,224.49L322.29,223.73L326.04,222.95L329.78,222.14L333.53,221.32L337.28,220.50L341.02,219.69L344.77,218.88L348.52,218.10L352.26,217.35L356.01,216.61L359.76,215.90L363.51,215.20L367.25,214.50L371.00,213.80L374.75,213.10L378.50,212.39L382.24,211.66L385.99,210.92L389.74,210.16L393.48,209.40L397.23,208.64L400.98,207.89L404.72,207.17L408.47,206.47L412.22,205.82L415.96,205.24L419.71,204.72L423.46,204.25L427.21,203.82L430.95,203.42L432.00,203.31" stroke="#ff4d00" stroke-width="1.30" stroke-dasharray="1.35,1.35,1.35,1.35,1.35,2.70"/>
<path d="M60.00,220.00L82.56,210.72L95.76,204.22L105.12,198.73L112.38,194.42L118.31,191.13L123.33,188.21L127.68,185.69L131.51,183.36L134.94,180.84L138.04,178.87L143.48,175.91L145.89,174.73L150.24,172.61L154.07,170.66L157.50,168.92L160.60,167.45L164.76,165.66L168.45,164.10L172.80,162.12L175.71,160.72L180.06,158.67L183.89,156.93L187.32,155.38L191.01,153.79L194.84,152.27L198.73,150.92L202.21,149.83L206.09,148.63L209.88,147.35L213.57,145.93L217.40,144.32L221.06,142.77L224.77,141.29L228.65,139.87L232.44,138.54L236.13,137.30L239.83,136.05L243.62,134.77L247.33,133.49L251.11,132.16L254.84,130.89L258.61,129.67L262.33,128.52L266.07,127.35L269.83,126.14L273.58,124.85L277.31,123.52L281.06,122.15L284.82,120.76L288.57,119.38L292.32,118.02L296.07,116.70L299.81,115.46L303.55,114.29L307.30,113.18L311.05,112.11L314.80,111.08L318.54,110.06L322.29,109.05L326.04,108.02L329.78,106.96L333.53,105.88L337.28,104.81L341.02,103.73L344.77,102.66L348.52,101.58L352.26,100.51L356.01,99.44L359.76,98.37L363.51,97.30L367.25,96.23L371.00,95.17L374.75,94.11L378.50,93.07L382.24,92.05L385.99,91.04L389.74,90.07L393.48,89.14L397.23,88.26L400.98,87.43L404.72,86.64L408.47,85.87L412.22,85.13L415.96,84.39L419.71,83.66L423.46,82.94L427.21,82.29L430.95,81.66L431.50,81.58" stroke="#808080" stroke-width="1.30" stroke-dasharray="1.35,1.35,1.35,1.35,1.35,1.35,1.35,2.70"/>
<path d="M60.00,296.10L82.56,293.21L95.76,289.81L105.12,287.05L112.38,284.81L118.31,282.83L123.33,280.96L127.68,279.23L131.51,277.71L134.94,276.40L138.04,275.29L143.48,273.49L145.89,272.72L150.24,271.34L154.07,270.10L157.50,268.90L160.60,267.72L164.76,266.11L168.45,264.76L172.80,263.38L175.71,262.55L180.06,261.41L183.89,260.47L187.32,259.65L191.01,258.75L194.84,257.76L198.73,256.68L202.21,255.61L206.09,254.36L209.88,253.08L213.57,251.81L217.40,250.47L221.06,249.21L224.77,247.96L228.65,246.70L232.44,245.52L236.13,244.39L239.83,243.28L243.62,242.17L247.33,241.10L251.11,240.03L254.84,238.99L258.61,237.97L262.33,236.99L266.07,236.05L269.83,235.13L273.58,234.26L277.31,233.42L281.06,232.61L284.82,231.81L288.57,231.04L292.32,230.29L296.07,229.60L299.81,228.95L303.55,228.34L307.30,227.74L311.05,227.13L314.80,226.51L318.54,225.86L322.29,225.18L326.04,224.46L329.78,223.74L333.53,223.01L337.28,222.27L341.02,221.53L344.77,220.80L348.52,220.08L352.26,219.37L356.01,218.67L359.76,217.97L363.51,217.27L367.25,216.58L371.00,215.90L374.75,215.22L378.50,214.56L382.24,213.91L385.99,213.28L389.74,212.67L393.48,212.07L397.23,211.49L400.98,210.92L404.72,210.36L408.47,209.82L412.22,209.29L415.96,208.80L419.71,208.34L423.46,207.91L427.21,207.50L430.95,207.12L432.00,207.01" stroke="#808080" stroke-width="1.30" stroke-dasharray="1.35,1.35,1.35,1.35,1.35,1.35,1.35,2.70"/>
<path d="M60.00,220.00L82.56,210.72L95.76,204.38L105.12,199.03L112.38,194.75L118.31,191.47L123.33,188.52L127.68,186.00L131.51,183.66L134.94,181.14L138.04,179.18L143.48,176.25L145.89,175.08L150.24,173.00L154.07,171.08L157.50,169.38L160.60,167.94L164.76,166.19L168.45,164.68L172.80,162.74L175.71,161.37L180.06,159.37L183.89,157.67L187.32,156.17L191.01,154.63L194.84,153.16L198.73,151.87L202.21,150.84L206.09,149.70L209.88,148.48L213.57,147.11L217.40,145.55L221.06,144.05L224.77,142.61L228.65,141.23L232.44,139.93L236.13,138.70L239.83,137.47L243.62,136.18L247.33,134.87L251.11,133.46L254.84,132.08L258.61,130.74L262.33,129.47L266.07,128.22L269.83,126.96L273.58,125.70L277.31,124.47L281.06,123.25L284.82,122.05L288.57,120.86L292.32,119.68L296.07,118.51L299.81,117.36L303.55,116.23L307.30,115.15L311.05,114.09L314.80,113.05L318.54,112.01L322.29,110.96L326.04,109.88L329.78,108.77L333.53,107.61L337.28,106.45L341.02,105.28L344.77,104.14L348.52,103.04L352.26,101.96L356.01,100.91L359.76,99.87L363.51,98.89L367.25,98.01L371.00,97.21L374.75,96.45L378.50,95.70L382.24,94.96L385.99,94.29L389.74,93.65L393.48,93.02L397.23,92.43L400.98,91.84L404.72,91.23L408.47,90.60L412.22,89.97L415.96,89.34L419.71,88.74L423.46,88.18L427.21,87.64L430.95,87.13L432.00,87.00" stroke="#cd0000" stroke-width="1.30"/>
<path d="M60.00,296.10L82.56,293.21L95.76,289.87L105.12,287.16L112.38,284.94L118.31,282.98L123.33,281.12L127.68,279.42L131.51,277.92L134.94,276.62L138.04,275.53L143.48,273.80L145.89,273.07L150.24,271.78L154.07,270.61L157.50,269.49L160.60,268.38L164.76,266.86L168.45,265.59L172.80,264.29L175.71,263.53L180.06,262.49L183.89,261.64L187.32,260.90L191.01,260.08L194.84,259.18L198.73,258.16L202.21,257.15L206.09,255.94L209.88,254.70L213.57,253.47L217.40,252.17L221.06,250.95L224.77,249.73L228.65,248.51L232.44,247.37L236.13,246.29L239.83,245.22L243.62,244.15L247.33,243.12L251.11,242.10L254.84,241.12L258.61,240.15L262.33,239.23L266.07,238.36L269.83,237.54L273.58,236.76L277.31,236.03L281.06,235.32L284.82,234.63L288.57,233.95L292.32,233.30L296.07,232.70L299.81,232.15L303.55,231.63L307.30,231.11L311.05,230.60L314.80,230.08L318.54,229.53L322.29,228.94L326.04,228.32L329.78,227.69L333.53,227.05L337.28,226.41L341.02,225.78L344.77,225.15L348.52,224.54L352.26,223.94L356.01,223.35L359.76,222.77L363.51,222.19L367.25,221.63L371.00,221.07L374.75,220.53L378.50,220.01L382.24,219.50L385.99,219.02L389.74,218.56L393.48,218.12L397.23,217.70L400.98,217.29L404.72,216.91L408.47,216.54L412.22,216.20L415.96,215.90L419.71,215.64L423.46,215.41L427.21,215.22L430.95,215.05L432.00,215.01" stroke="#cd0000" stroke-width="1.30"/>
<path d="M60.00,220.00L82.56,210.72L95.76,204.47L105.12,199.23L112.38,195.02L118.31,191.80L123.33,188.90L127.68,186.42L131.51,184.13L134.94,181.64L138.04,179.71L143.48,176.83L145.89,175.69L150.24,173.63L154.07,171.74L157.50,170.07L160.60,168.66L164.76,166.94L168.45,165.46L172.80,163.57L175.71,162.23L180.06,160.27L183.89,158.62L187.32,157.17L191.01,155.69L194.84,154.30L198.73,153.08L202.21,152.12L206.09,151.06L209.88,149.92L213.57,148.63L217.40,147.15L221.06,145.71L224.77,144.33L228.65,143.01L232.44,141.76L236.13,140.56L239.83,139.35L243.62,138.08L247.33,136.78L251.11,135.42L254.84,134.12L258.61,132.87L262.33,131.68L266.07,130.49L269.83,129.26L273.58,128.01L277.31,126.81L281.06,125.64L284.82,124.51L288.57,123.40L292.32,122.33L296.07,121.28L299.81,120.25L303.55,119.26L307.30,118.30L311.05,117.38L314.80,116.47L318.54,115.58L322.29,114.68L326.04,113.78L329.78,112.85L333.53,111.91L337.28,110.96L341.02,110.06L344.77,109.21L348.52,108.41L352.26,107.66L356.01,106.93L359.76,106.24L363.51,105.60L367.25,105.02L371.00,104.50L374.75,104.02L378.50,103.57L382.24,103.16L385.99,102.83L389.74,102.56L393.48,102.34L397.23,102.15L400.98,101.95L404.72,101.74L408.47,101.54L412.22,101.34L415.96,101.17L419.71,101.01L423.46,100.88L427.21,100.78L430.95,100.71L432.00,100.70" stroke="#00b400" stroke-width="1.30" stroke-dasharray="2.70,1.35"/>
<path d="M60.00,296.10L82.56,293.21L95.76,289.96L105.12,287.37L112.38,285.21L118.31,283.30L123.33,281.48L127.68,279.82L131.51,278.37L134.94,277.12L138.04,276.09L143.48,274.47L145.89,273.81L150.24,272.64L154.07,271.60L157.50,270.60L160.60,269.61L164.76,268.25L168.45,267.12L172.80,266.02L175.71,265.40L180.06,264.60L183.89,263.97L187.32,263.42L191.01,262.82L194.84,262.13L198.73,261.30L202.21,260.44L206.09,259.39L209.88,258.31L213.57,257.22L217.40,256.06L221.06,254.96L224.77,253.87L228.65,252.77L232.44,251.75L236.13,250.76L239.83,249.79L243.62,248.80L247.33,247.86L251.11,246.91L254.84,246.01L258.61,245.12L262.33,244.27L266.07,243.45L269.83,242.66L273.58,241.90L277.31,241.17L281.06,240.47L284.82,239.79L288.57,239.14L292.32,238.52L296.07,237.95L299.81,237.43L303.55,236.94L307.30,236.48L311.05,236.03L314.80,235.60L318.54,235.17L322.29,234.74L326.04,234.32L329.78,233.92L333.53,233.53L337.28,233.15L341.02,232.80L344.77,232.45L348.52,232.13L352.26,231.81L356.01,231.51L359.76,231.23L363.51,230.96L367.25,230.71L371.00,230.48L374.75,230.27L378.50,230.07L382.24,229.90L385.99,229.77L389.74,229.67L393.48,229.60L397.23,229.54L400.98,229.50L404.72,229.46L408.47,229.42L412.22,229.37L415.96,229.34L419.71,229.31L423.46,229.30L427.21,229.30L430.95,229.30L432.00,229.30" stroke="#00b400" stroke-width="1.30" stroke-dasharray="2.70,1.35"/>
<path d="M60.00,220.00L82.56,210.72L95.76,204.63L105.12,199.53L112.38,195.38L118.31,192.20L123.33,189.33L127.68,186.88L131.51,184.60L134.94,182.14L138.04,180.23L143.48,177.39L145.89,176.27L150.24,174.25L154.07,172.39L157.50,170.74L160.60,169.35L164.76,167.66L168.45,166.20L172.80,164.33L175.71,163.01L180.06,161.08L183.89,159.43L187.32,157.98L191.01,156.49L194.84,155.09L198.73,153.86L202.21,152.87L206.09,151.79L209.88,150.63L213.57,149.32L217.40,147.82L221.06,146.37L224.77,144.99L228.65,143.67L232.44,142.43L236.13,141.26L239.83,140.08L243.62,138.86L247.33,137.61L251.11,136.32L254.84,135.07L258.61,133.87L262.33,132.74L266.07,131.61L269.83,130.45L273.58,129.28L277.31,128.14L281.06,127.04L284.82,125.96L288.57,124.92L292.32,123.92L296.07,122.96L299.81,122.05L303.55,121.20L307.30,120.44L311.05,119.73L314.80,119.05L318.54,118.38L322.29,117.67L326.04,116.90L329.78,116.05L333.53,115.09L337.28,114.09L341.02,113.16L344.77,112.37L348.52,111.72L352.26,111.15L356.01,110.63L359.76,110.13L363.51,109.68L367.25,109.31L371.00,109.01L374.75,108.75L378.50,108.50L382.24,108.26L385.99,108.05L389.74,107.89L393.48,107.76L397.23,107.66L400.98,107.58L404.72,107.50L408.47,107.43L412.22,107.38L415.96,107.33L419.71,107.30L423.46,107.28L427.21,107.27L430.95,107.27L432.00,107.27" stroke="#0000ff" stroke-width="1.30" stroke-dasharray="1.35,2.03"/>
<path d="M60.00,296.10L82.56,293.21L95.76,290.12L105.12,287.67L112.38,285.57L118.31,283.69L123.33,281.90L127.68,280.27L131.51,278.84L134.94,277.62L138.04,276.62L143.48,275.09L145.89,274.47L150.24,273.38L154.07,272.42L157.50,271.49L160.60,270.56L164.76,269.27L168.45,268.20L172.80,267.15L175.71,266.55L180.06,265.78L183.89,265.17L187.32,264.64L191.01,264.05L194.84,263.38L198.73,262.59L202.21,261.77L206.09,260.77L209.88,259.74L213.57,258.70L217.40,257.60L221.06,256.55L224.77,255.50L228.65,254.45L232.44,253.47L236.13,252.52L239.83,251.56L243.62,250.60L247.33,249.68L251.11,248.77L254.84,247.91L258.61,247.09L262.33,246.34L266.07,245.68L269.83,245.09L273.58,244.57L277.31,244.10L281.06,243.65L284.82,243.21L288.57,242.77L292.32,242.32L296.07,241.89L299.81,241.47L303.55,241.07L307.30,240.69L311.05,240.32L314.80,239.97L318.54,239.63L322.29,239.30L326.04,239.00L329.78,238.72L333.53,238.46L337.28,238.21L341.02,237.96L344.77,237.73L348.52,237.49L352.26,237.26L356.01,237.02L359.76,236.78L363.51,236.55L367.25,236.33L371.00,236.12L374.75,235.93L378.50,235.76L382.24,235.62L385.99,235.51L389.74,235.42L393.48,235.36L397.23,235.31L400.98,235.28L404.72,235.24L408.47,235.21L412.22,235.18L415.96,235.16L419.71,235.15L423.46,235.15L427.21,235.15L430.95,235.15L432.00,235.15" stroke="#0000ff" stroke-width="1.30" stroke-dasharray="1.35,2.03"/>
</g>
<g fill="none" stroke="#000" stroke-width="0.72">
<rect x="60.00" y="16.50" width="420.00" height="283.50"/>
<path d="M82.56,300.00v-2.25M82.56,16.50v2.25M112.38,300.00v-2.25M112.38,16.50v2.25M127.68,300.00v-2.25M127.68,16.50v2.25M134.94,300.00v-4.50M134.94,16.50v4.50M157.50,300.00v-2.25M157.50,16.50v2.25M187.32,300.00v-2.25M187.32,16.50v2.25M202.62,300.00v-2.25M202.62,16.50v2.25M209.88,300.00v-4.50M209.88,16.50v4.50M232.44,300.00v-2.25M232.44,16.50v2.25M262.26,300.00v-2.25M262.26,16.50v2.25M277.56,300.00v-2.25M277.56,16.50v2.25M284.82,300.00v-4.50M284.82,16.50v4.50M307.38,300.00v-2.25M307.38,16.50v2.25M337.20,300.00v-2.25M337.20,16.50v2.25M352.50,300.00v-2.25M352.50,16.50v2.25M359.76,300.00v-4.50M359.76,16.50v4.50M382.32,300.00v-2.25M382.32,16.50v2.25M412.14,300.00v-2.25M412.14,16.50v2.25M427.44,300.00v-2.25M427.44,16.50v2.25M434.70,300.00v-4.50M434.70,16.50v4.50M457.26,300.00v-2.25M457.26,16.50v2.25M60.00,278.66h2.25M480.00,278.66h-2.25M60.00,266.18h2.25M480.00,266.18h-2.25M60.00,257.33h2.25M480.00,257.33h-2.25M60.00,250.46h2.25M480.00,250.46h-2.25M60.00,244.85h2.25M480.00,244.85h-2.25M60.00,240.10h2.25M480.00,240.10h-2.25M60.00,235.99h2.25M480.00,235.99h-2.25M60.00,232.37h2.25M480.00,232.37h-2.25M60.00,229.12h4.50M480.00,229.12h-4.50M60.00,207.79h2.25M480.00,207.79h-2.25M60.00,195.31h2.25M480.00,195.31h-2.25M60.00,186.45h2.25M480.00,186.45h-2.25M60.00,179.59h2.25M480.00,179.59h-2.25M60.00,173.97h2.25M480.00,173.97h-2.25M60.00,169.23h2.25M480.00,169.23h-2.25M60.00,165.12h2.25M480.00,165.12h-2.25M60.00,161.49h2.25M480.00,161.49h-2.25M60.00,158.25h4.50M480.00,158.25h-4.50M60.00,136.91h2.25M480.00,136.91h-2.25M60.00,124.43h2.25M480.00,124.43h-2.25M60.00,115.58h2.25M480.00,115.58h-2.25M60.00,108.71h2.25M480.00,108.71h-2.25M60.00,103.10h2.25M480.00,103.10h-2.25M60.00,98.35h2.25M480.00,98.35h-2.25M60.00,94.24h2.25M480.00,94.24h-2.25M60.00,90.62h2.25M480.00,90.62h-2.25M60.00,87.38h4.50M480.00,87.38h-4.50M60.00,66.04h2.25M480.00,66.04h-2.25M60.00,53.56h2.25M480.00,53.56h-2.25M60.00,44.70h2.25M480.00,44.70h-2.25M60.00,37.84h2.25M480.00,37.84h-2.25M60.00,32.22h2.25M480.00,32.22h-2.25M60.00,27.48h2.25M480.00,27.48h-2.25M60.00,23.37h2.25M480.00,23.37h-2.25M60.00,19.74h2.25M480.00,19.74h-2.25"/>
</g>
<g font-family='"Liberation Serif", serif' font-size="16.67" fill="#000" opacity="0.999">
<text x="43.40" y="23.80" text-anchor="end">10</text>
<text x="43.60" y="15.40" font-size="13.33">3</text>
<text x="43.40" y="94.67" text-anchor="end">10</text>
<text x="43.60" y="86.27" font-size="13.33">2</text>
<text x="43.40" y="165.55" text-anchor="end">10</text>
<text x="43.60" y="157.15" font-size="13.33">1</text>
<text x="43.40" y="236.43" text-anchor="end">10</text>
<text x="43.60" y="228.03" font-size="13.33">0</text>
<text x="39.50" y="307.30" text-anchor="end">10</text>
<text x="39.30" y="298.90" font-size="13.33">-1</text>
<text x="65.60" y="323.6" text-anchor="end">10</text>
<text x="65.90" y="315.5" font-size="13.33">0</text>
<text x="140.54" y="323.6" text-anchor="end">10</text>
<text x="140.84" y="315.5" font-size="13.33">1</text>
<text x="215.48" y="323.6" text-anchor="end">10</text>
<text x="215.78" y="315.5" font-size="13.33">2</text>
<text x="290.42" y="323.6" text-anchor="end">10</text>
<text x="290.72" y="315.5" font-size="13.33">3</text>
<text x="365.36" y="323.6" text-anchor="end">10</text>
<text x="365.66" y="315.5" font-size="13.33">4</text>
<text x="440.30" y="323.6" text-anchor="end">10</text>
<text x="440.60" y="315.5" font-size="13.33">5</text>
<text x="269.7" y="343.6" text-anchor="middle" font-style="italic">t</text>
<text x="312.5" y="78.4">spin</text>
<text x="311.8" y="277.2">chirality</text>
<g transform="translate(15.3,200.4) rotate(-90)">
<g transform="translate(0.00,0)"><text x="1.3" y="0">χ</text><path d="M8.7,-7.8L2.5,3.3" stroke="#000" stroke-width="1.0" fill="none"/><path d="M0.9,-5.9Q0.7,-7.8 2.2,-7.7L8.4,3.2Q9.9,3.3 9.4,1.1" stroke="#000" stroke-width="0.7" fill="none"/></g>
<text x="9.7" y="4.4" font-size="13.33">sg</text>
<text x="21.3" y="0">(<tspan font-style="italic">t</tspan>),</text>
<g transform="translate(44.80,0)"><text x="1.3" y="0">χ</text><path d="M8.7,-7.8L2.5,3.3" stroke="#000" stroke-width="1.0" fill="none"/><path d="M0.9,-5.9Q0.7,-7.8 2.2,-7.7L8.4,3.2Q9.9,3.3 9.4,1.1" stroke="#000" stroke-width="0.7" fill="none"/></g>
<text x="54.1" y="4.4" font-size="13.33">cg</text>
<text x="66.7" y="0">(<tspan font-style="italic">t</tspan>)</text>
</g>
</g>
<g font-family='"Liberation Serif", serif' font-size="16.67" opacity="0.999">
<text x="78.2" y="29.40" fill="#000000"><tspan font-style="italic">T</tspan>=0.43</text>
<path d="M135.6,25.35H150" fill="none" stroke="#000000" stroke-width="0.70" stroke-dasharray="2.20,3.90"/>
<path d="M140.3,25.35h4.4M142.5,23.15v4.4" fill="none" stroke="#000" stroke-width="0.75"/>
<text x="78.2" y="41.90" fill="#cd0000"><tspan font-style="italic">T</tspan>=0.45</text>
<path d="M135.6,37.59H150" fill="none" stroke="#cd0000" stroke-width="1.30"/>
<text x="78.2" y="54.40" fill="#00b400"><tspan font-style="italic">T</tspan>=0.47</text>
<path d="M135.6,50.09H150" fill="none" stroke="#00b400" stroke-width="1.30" stroke-dasharray="2.70,1.35"/>
<text x="78.2" y="66.90" fill="#0000ff"><tspan font-style="italic">T</tspan>=0.48</text>
<path d="M135.6,62.59H150" fill="none" stroke="#0000ff" stroke-width="1.30" stroke-dasharray="1.35,2.03"/>
<text x="78.2" y="79.40" fill="#ff00ff"><tspan font-style="italic">T</tspan>=0.49</text>
<path d="M135.6,75.08H150" fill="none" stroke="#ff00ff" stroke-width="1.30" stroke-dasharray="0.68,1.01"/>
<text x="78.2" y="91.90" fill="#00cdcd"><tspan font-style="italic">T</tspan>=0.50</text>
<path d="M135.6,87.57H150" fill="none" stroke="#00cdcd" stroke-width="1.30" stroke-dasharray="4.05,1.35,0.68,1.35"/>
<text x="78.2" y="104.40" fill="#8b8b00"><tspan font-style="italic">T</tspan>=0.51</text>
<path d="M135.6,100.07H150" fill="none" stroke="#8b8b00" stroke-width="1.30" stroke-dasharray="2.70,2.03,0.68,2.03"/>
<text x="78.2" y="116.90" fill="#000000"><tspan font-style="italic">T</tspan>=0.52</text>
<path d="M135.6,112.56H150" fill="none" stroke="#000000" stroke-width="1.30" stroke-dasharray="1.35,1.35,1.35,2.70"/>
<text x="78.2" y="129.40" fill="#ff4d00"><tspan font-style="italic">T</tspan>=0.53</text>
<path d="M135.6,125.06H150" fill="none" stroke="#ff4d00" stroke-width="1.30" stroke-dasharray="1.35,1.35,1.35,1.35,1.35,2.70"/>
<text x="78.2" y="141.90" fill="#808080"><tspan font-style="italic">T</tspan>=0.54</text>
<path d="M135.6,137.56H150" fill="none" stroke="#808080" stroke-width="1.30" stroke-dasharray="1.35,1.35,1.35,1.35,1.35,1.35,1.35,2.70"/>
<text x="78.2" y="154.40" fill="#cd0000"><tspan font-style="italic">T</tspan>=0.56</text>
<path d="M135.6,150.05H150" fill="none" stroke="#cd0000" stroke-width="1.30"/>
<text x="78.2" y="166.90" fill="#00b400"><tspan font-style="italic">T</tspan>=0.60</text>
<path d="M135.6,162.54H150" fill="none" stroke="#00b400" stroke-width="1.30" stroke-dasharray="2.70,1.35"/>
<text x="78.2" y="179.40" fill="#0000ff"><tspan font-style="italic">T</tspan>=0.62</text>
<path d="M135.6,175.04H150" fill="none" stroke="#0000ff" stroke-width="1.30" stroke-dasharray="1.35,2.03"/>
</g>
</svg>
</body></html>
